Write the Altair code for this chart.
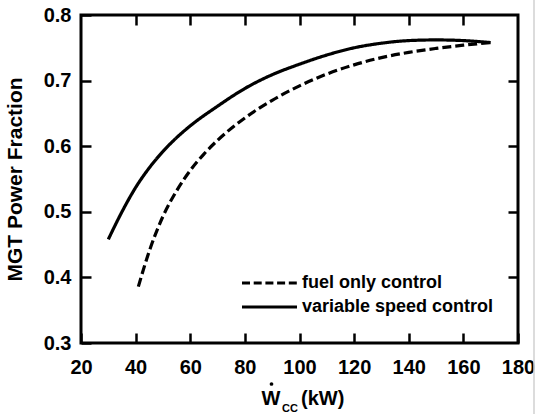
import altair as alt
import pandas as pd

# ---- data ----
vs_x = [30, 35, 40, 45, 50, 55, 60, 70, 80, 90, 100, 110, 120, 130, 140, 150, 160, 170]
vs_y = [0.458, 0.500, 0.537, 0.567, 0.592, 0.613, 0.631, 0.661, 0.688, 0.709, 0.725,
        0.739, 0.750, 0.757, 0.761, 0.762, 0.761, 0.758]

fo_x = [41, 45, 50, 55, 60, 65, 70, 80, 90, 100, 110, 120, 130, 140, 150, 160, 170]
fo_y = [0.386, 0.440, 0.493, 0.532, 0.563, 0.588, 0.609, 0.643, 0.670, 0.692, 0.710,
        0.724, 0.735, 0.743, 0.749, 0.754, 0.758]

series_names = ["fuel only control", "variable speed control"]
x_ticks = [20, 40, 60, 80, 100, 120, 140, 160, 180]
y_ticks = [0.3, 0.4, 0.5, 0.6, 0.7, 0.8]
x_inner_ticks = [40, 60, 80, 100, 120, 140, 160]
y_inner_ticks = [0.4, 0.5, 0.6, 0.7]

W, H = 437, 328
FONT = "Liberation Sans"
TICK = 10

df = pd.concat([
    pd.DataFrame({"x": fo_x, "y": fo_y, "series": series_names[0]}),
    pd.DataFrame({"x": vs_x, "y": vs_y, "series": series_names[1]}),
])

xscale = alt.Scale(domain=[20, 180], nice=False, zero=False)
yscale = alt.Scale(domain=[0.3, 0.8], nice=False, zero=False)

common = dict(grid=False, domain=False, ticks=True, tickSize=TICK, offset=-TICK,
              tickWidth=2.5, tickColor="black", tickCap="butt")

x_axis = alt.Axis(orient="bottom", values=x_ticks, title=None,
                  labelFont=FONT, labelFontWeight="bold", labelFontSize=20,
                  labelColor="black", labelPadding=14, labelFlush=False, **common)
y_axis = alt.Axis(orient="left", values=y_ticks, format=".1f", title="MGT Power Fraction",
                  labelFont=FONT, labelFontWeight="bold", labelFontSize=20,
                  labelColor="black", labelPadding=10, labelFlush=False,
                  titleFont=FONT, titleFontWeight="bold", titleFontSize=21,
                  titleColor="black", titleX=-66 - TICK, titleY=H / 2, titleAngle=270,
                  titleAlign="center", titleBaseline="middle", **common)
x_axis_top = alt.Axis(orient="top", values=x_inner_ticks, title=None, labels=False, **common)
y_axis_right = alt.Axis(orient="right", values=y_inner_ticks, title=None, labels=False, **common)

lines = alt.Chart(df).mark_line(color="black", strokeWidth=3.2, interpolate="monotone").encode(
    x=alt.X("x:Q", scale=xscale, axis=x_axis),
    y=alt.Y("y:Q", scale=yscale, axis=y_axis),
    strokeDash=alt.StrokeDash("series:N",
                              scale=alt.Scale(domain=series_names, range=[[9, 4], [1, 0]]),
                              legend=None),
)

xt = pd.DataFrame({"x": x_inner_ticks})
yt = pd.DataFrame({"y": y_inner_ticks})
top_axis_layer = alt.Chart(xt).mark_point(opacity=0).encode(
    x=alt.X("x:Q", scale=xscale, axis=x_axis_top))
right_axis_layer = alt.Chart(yt).mark_point(opacity=0).encode(
    y=alt.Y("y:Q", scale=yscale, axis=y_axis_right))

# ---- legend (inside, lower right) ----
one = pd.DataFrame({"t": [""]})
LX0, LX1, LTX = 161, 216, 221
LY = [268, 292]
leg_dash = alt.Chart(one).mark_rule(color="black", strokeWidth=3, strokeDash=[8, 3.7]).encode(
    x=alt.value(LX0), x2=alt.value(LX1), y=alt.value(LY[0]))
leg_solid = alt.Chart(one).mark_rule(color="black", strokeWidth=3).encode(
    x=alt.value(LX0), x2=alt.value(LX1), y=alt.value(LY[1]))
leg_t1 = alt.Chart(one).mark_text(font=FONT, fontWeight="bold", fontSize=18, color="black",
                                  align="left", baseline="middle").encode(
    text=alt.value(series_names[0]), x=alt.value(LTX), y=alt.value(LY[0]))
leg_t2 = alt.Chart(one).mark_text(font=FONT, fontWeight="bold", fontSize=18, color="black",
                                  align="left", baseline="middle").encode(
    text=alt.value(series_names[1]), x=alt.value(LTX), y=alt.value(LY[1]))

# ---- x-axis title: W-dot with subscript CC, then (kW) ----
w_text = alt.Chart(one).mark_text(font=FONT, fontWeight="bold", fontSize=20, color="black",
                                  align="center", baseline="alphabetic").encode(
    text=alt.value("W"), x=alt.value(190), y=alt.value(390))
w_dot = alt.Chart(one).mark_point(filled=True, shape="circle", size=14, color="black", opacity=1).encode(
    x=alt.value(190.5), y=alt.value(369))
cc_text = alt.Chart(one).mark_text(font=FONT, fontWeight="bold", fontSize=11, color="black",
                                   align="left", baseline="alphabetic").encode(
    text=alt.value("CC"), x=alt.value(201), y=alt.value(397))
kw_text = alt.Chart(one).mark_text(font=FONT, fontWeight="bold", fontSize=20, color="black",
                                   align="left", baseline="alphabetic").encode(
    text=alt.value("(kW)"), x=alt.value(220), y=alt.value(390))

edge = alt.Chart(one).mark_rule(color="#d0d0d0", strokeWidth=1.5).encode(
    x=alt.value(453), y=alt.value(-15), y2=alt.value(399))

chart = alt.layer(
    lines, top_axis_layer, right_axis_layer,
    leg_dash, leg_solid, leg_t1, leg_t2,
    w_text, w_dot, cc_text, kw_text, edge
).resolve_axis(x="independent", y="independent").properties(
    width=W, height=H,
    autosize=alt.AutoSizeParams(type="none"),
    padding={"left": 81, "top": 15, "right": 19, "bottom": 71},
    background="white",
).configure_view(stroke="black", strokeWidth=3)

chart.save("out.html", embed_options={"renderer": "svg", "actions": False})
